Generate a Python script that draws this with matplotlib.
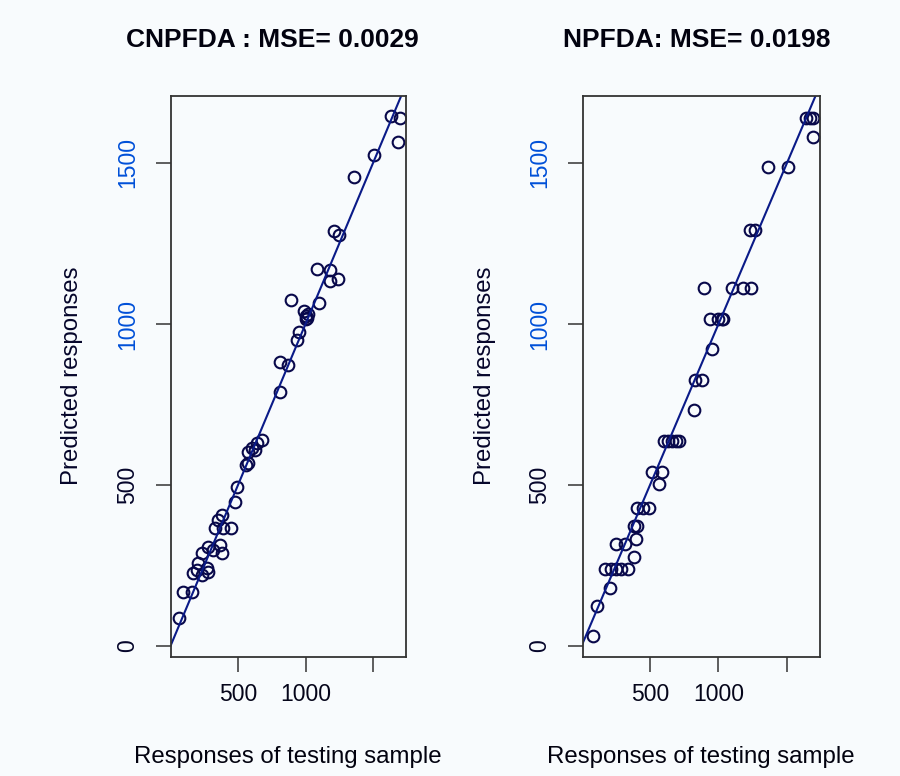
import matplotlib
matplotlib.use("Agg")
import matplotlib.pyplot as plt

plt.rcParams["font.family"] = ["Liberation Sans", "DejaVu Sans"]

cn_true = [1631, 1696, 1686, 1505, 1362, 1211, 1246, 1087, 1181, 1181,
           1241, 890, 1098, 990, 1000, 1010, 1020, 1005, 952, 935,
           811, 868, 813, 675, 638, 601, 577, 626, 559, 577,
           495, 478, 379, 354, 330, 391, 445, 280, 367, 379,
           317, 231, 206, 268, 280, 169, 231, 194, 95, 157, 63]
cn_pred = [1645, 1641, 1566, 1526, 1457, 1290, 1276, 1170, 1168, 1132,
           1139, 1073, 1064, 1040, 1025, 1020, 1030, 1015, 974, 950,
           883, 873, 790, 640, 630, 614, 604, 609, 562, 568,
           495, 448, 407, 391, 366, 366, 366, 308, 314, 288,
           298, 288, 257, 242, 231, 226, 221, 236, 169, 169, 86]

np_true = [1639, 1693, 1668, 1689, 1365, 1507, 1228, 1265, 896, 1096,
           1181, 1235, 938, 998, 1023, 1035, 955, 828, 877, 821,
           600, 630, 660, 690, 715, 512, 585, 568, 403, 451,
           495, 383, 403, 396, 252, 318, 383, 175, 215, 250,
           285, 340, 208, 115, 81]
np_pred = [1640, 1640, 1640, 1582, 1487, 1487, 1291, 1291, 1111, 1111,
           1111, 1111, 1016, 1016, 1016, 1016, 922, 826, 826, 733,
           637, 637, 637, 637, 637, 541, 541, 503, 430, 430,
           430, 373, 373, 332, 316, 316, 277, 238, 238, 238,
           238, 238, 181, 124, 31]

titles = ["CNPFDA : MSE= 0.0029", "NPFDA: MSE= 0.0198"]
x_ticks = [500, 1000, 1500]
x_ticklabels = ["500", "1000", ""]
y_ticks = [0, 500, 1000, 1500]
y_ticklabels = ["0", "500", "1000", "1500"]
y_tick_colors = ["#05052a", "#05052a", "#0050d8", "#0050d8"]

BG = "#f8fbfd"
W, H = 900, 776

fig = plt.figure(figsize=(9, 7.76), dpi=100, facecolor=BG)

# (x, y, title, axes pixel span, xlim, title centre, x-label centre, y-label x)
panels = [
    (cn_true, cn_pred, titles[0], (171, 406), (4, 1744), 272, 288, 72),
    (np_true, np_pred, titles[1], (583, 820), (11, 1741), 697, 701, 485),
]

for xs, ys, title, (px0, px1), xlim, tc, xc, ylab_x in panels:
    ax = fig.add_axes([px0 / W, (H - 657) / H, (px1 - px0) / W, 561 / H])
    ax.set_facecolor(BG)
    ax.plot(xs, ys, linestyle="none", marker="o", markersize=8.4,
            markerfacecolor="none", markeredgecolor="#08084a", markeredgewidth=1.5)
    ax.plot([0, 2000], [0, 2000], color="#0a1a88", linewidth=1.5)
    ax.set_xlim(*xlim)
    ax.set_ylim(-34, 1708)

    ax.set_xticks(x_ticks)
    ax.set_xticklabels(x_ticklabels)
    ax.set_yticks(y_ticks)
    ax.set_yticklabels(y_ticklabels, rotation=90, va="center")
    for lab, c in zip(ax.get_yticklabels(), y_tick_colors):
        lab.set_color(c)
    ax.tick_params(axis="both", direction="out", length=11, width=1.1,
                   color="#333333", labelsize=16.5)
    ax.tick_params(axis="x", pad=8, labelcolor="#05051a")
    ax.tick_params(axis="y", pad=12)
    for sp in ax.spines.values():
        sp.set_color("#333333")
        sp.set_linewidth(1.3)

    fig.text(tc / W, 1 - 40 / H, title, ha="center", va="center",
             fontsize=19, fontweight="bold", color="#02020f")
    fig.text(xc / W, 1 - 757 / H, "Responses of testing sample", ha="center",
             va="center", fontsize=17.3, color="#02020f")
    fig.text(ylab_x / W, 1 - 376 / H, "Predicted responses", ha="center",
             va="center", rotation=90, fontsize=17.3, color="#05052a")

fig.savefig("out.png", dpi=100, facecolor=BG)
